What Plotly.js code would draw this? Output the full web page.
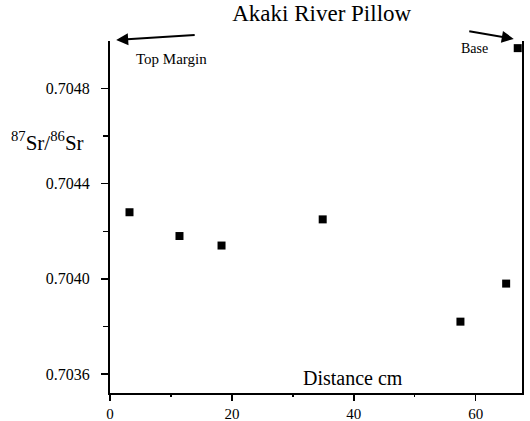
<!DOCTYPE html>
<html>
<head>
<meta charset="utf-8">
<script src="https://cdn.plot.ly/plotly-3.0.1.min.js"></script>
<style>html,body{margin:0;padding:0;background:#fff}#chart{width:530px;height:421px}</style>
</head>
<body>
<div id="chart"></div>
<script>
var distance = [3.2, 11.4, 18.3, 34.9, 57.5, 65.0, 66.9];
var srRatio = [0.70428, 0.70418, 0.70414, 0.70425, 0.70382, 0.70398, 0.70497];
var xTicks = [0, 20, 40, 60];
var xMinor = [10, 30, 50];
var yTicks = [0.7036, 0.7040, 0.7044, 0.7048];
var yTickLabels = ['0.7036', '0.7040', '0.7044', '0.7048'];
var yMinor = [0.7038, 0.7042, 0.7046];

var serif = '"Liberation Serif", "Times New Roman", Times, "DejaVu Serif", serif';

var trace = {
  x: distance, y: srRatio, type: 'scatter', mode: 'markers',
  marker: {symbol: 'square', size: 8, color: '#000'},
  hoverinfo: 'none'
};

var layout = {
  width: 530, height: 421,
  margin: {l: 110, r: 8, t: 41, b: 28},
  paper_bgcolor: '#fff', plot_bgcolor: '#fff',
  showlegend: false,
  font: {family: serif, color: '#000', size: 15},
  title: {text: 'Akaki River Pillow', font: {family: serif, size: 23, color: '#000'},
          x: 0.607, xanchor: 'center', y: 0.969, yanchor: 'middle'},
  xaxis: {
    range: [0, 67.6], showgrid: false, zeroline: false,
    showline: true, linecolor: '#000', linewidth: 2,
    tickmode: 'array', tickvals: xTicks, ticks: 'outside', ticklen: 6, tickwidth: 1.5, tickcolor: '#000',
    tickfont: {family: serif, size: 15},
    minor: {tickvals: xMinor, ticks: 'outside', ticklen: 2, tickwidth: 1.5, tickcolor: '#000'}
  },
  yaxis: {
    range: [0.70352, 0.70500], showgrid: false, zeroline: false,
    showline: true, mirror: true, linecolor: '#000', linewidth: 2,
    tickmode: 'array', tickvals: yTicks, ticktext: yTickLabels,
    ticks: 'outside', ticklen: 7, tickwidth: 1.5, tickcolor: '#000',
    ticklabelstandoff: 8,
    tickfont: {family: serif, size: 16},
    minor: {tickvals: yMinor, ticks: 'outside', ticklen: 5, tickwidth: 1.5, tickcolor: '#000'}
  },
  annotations: [
    {text: '<sup>87</sup>Sr/<sup>86</sup>Sr', xref: 'paper', yref: 'paper', x: -0.245, y: 0.715,
     xanchor: 'left', yanchor: 'middle', showarrow: false, font: {family: serif, size: 21}},
    {text: 'Distance cm', xref: 'paper', yref: 'paper', x: 0.590, y: 0.043,
     xanchor: 'center', yanchor: 'middle', showarrow: false, font: {family: serif, size: 20}},
    {text: 'Top Margin', xref: 'paper', yref: 'paper', x: 0.149, y: 0.95,
     xanchor: 'center', yanchor: 'middle', showarrow: false, font: {family: serif, size: 15}},
    {text: 'Base', xref: 'paper', yref: 'paper', x: 0.885, y: 0.978,
     xanchor: 'center', yanchor: 'middle', showarrow: false, font: {family: serif, size: 14}},
    {text: '', xref: 'paper', yref: 'paper', x: 0.015, y: 1.003, ax: 80, ay: -5,
     showarrow: true, arrowhead: 2, arrowsize: 1.2, arrowwidth: 2, arrowcolor: '#000'},
    {text: '', xref: 'paper', yref: 'paper', x: 0.98, y: 1.006, ax: -46, ay: -8,
     showarrow: true, arrowhead: 2, arrowsize: 1.2, arrowwidth: 2, arrowcolor: '#000'}
  ]
};

Plotly.newPlot('chart', [trace], layout, {staticPlot: true, displayModeBar: false});
</script>
</body>
</html>
